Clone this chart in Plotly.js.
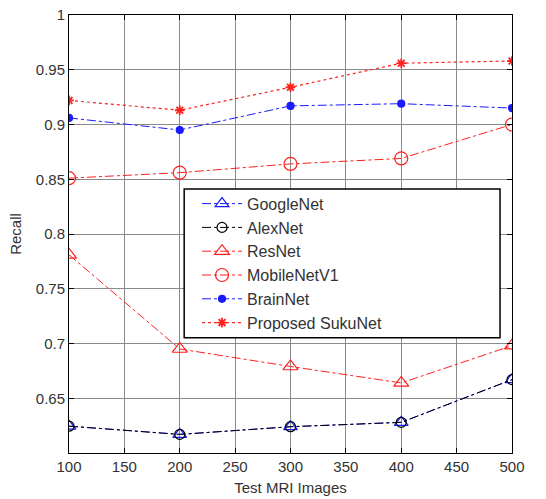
<!DOCTYPE html>
<html><head><meta charset="utf-8">
<script src="https://cdn.plot.ly/plotly-3.0.1.min.js"></script>
<style>html,body{margin:0;padding:0;background:#fff}#chart{width:546px;height:499px}</style>
</head><body><div id="chart"></div>
<script>
const testImages = [100, 200, 300, 400, 500];
const googleNet = [0.6245, 0.617, 0.624, 0.628, 0.667];
const alexNet   = [0.6245, 0.617, 0.624, 0.628, 0.667];
const resNet    = [0.781, 0.695, 0.679, 0.664, 0.698];
const mobileNetV1 = [0.851, 0.856, 0.864, 0.869, 0.900];
const brainNet  = [0.906, 0.895, 0.917, 0.919, 0.915];
const sukuNet   = [0.922, 0.913, 0.934, 0.956, 0.958];
const seriesNames = ['GoogleNet','AlexNet','ResNet','MobileNetV1','BrainNet','Proposed SukuNet'];
const xTicks = [100,150,200,250,300,350,400,450,500];
const yTicks = [0.65,0.7,0.75,0.8,0.85,0.9,0.95,1];
const yTickText = ['0.65','0.7','0.75','0.8','0.85','0.9','0.95','1'];

const FONT = '"Liberation Sans Narrow", "Arial Narrow", "Liberation Sans", Arial, sans-serif';
const RED = '#ff2020';
const BLUE = '#1a1aff';

function tr(y, name, color, dash, symbol, size, lw) {
  return {
    x: testImages, y: y, name: name, type: 'scatter', mode: 'lines+markers',
    line: {color: color, width: lw || 1, dash: dash},
    marker: {symbol: symbol, size: size, color: color,
             line: {color: color, width: 1.2}}
  };
}

const data = [
  tr(googleNet, seriesNames[0], BLUE, 'dashdot', 'triangle-up-open', 12),
  tr(alexNet, seriesNames[1], '#000000', 'dashdot', 'circle-open', 10),
  tr(resNet, seriesNames[2], RED, 'dashdot', 'triangle-up-open', 13),
  tr(mobileNetV1, seriesNames[3], RED, 'dashdot', 'circle-open', 13),
  tr(brainNet, seriesNames[4], BLUE, 'dashdot', 'circle', 7),
  tr(sukuNet, seriesNames[5], RED, 'dot', 'asterisk-open', 8, 1.2)
];
data[5].marker.line.width = 1.8;

const layout = {
  width: 546, height: 499,
  margin: {l: 69, r: 34, t: 15, b: 46},
  paper_bgcolor: '#fff', plot_bgcolor: '#fff',
  font: {family: FONT, size: 15, color: '#333'},
  showlegend: true,
  xaxis: {
    range: [100, 500], tickvals: xTicks, ticktext: xTicks.map(String),
    showgrid: true, gridcolor: '#8a8a8a', gridwidth: 1,
    zeroline: false, showline: true, linecolor: '#000', linewidth: 1, mirror: 'ticks',
    ticks: 'inside', ticklen: 5, tickcolor: '#000',
    tickfont: {family: FONT, size: 15, color: '#333'},
    title: {text: 'Test MRI Images', font: {family: FONT, size: 15, color: '#333'}, standoff: 8}
  },
  yaxis: {
    range: [0.6, 1], tickvals: yTicks, ticktext: yTickText,
    showgrid: true, gridcolor: '#8a8a8a', gridwidth: 1,
    zeroline: false, showline: true, linecolor: '#000', linewidth: 1, mirror: 'ticks',
    ticks: 'inside', ticklen: 5, tickcolor: '#000',
    tickfont: {family: FONT, size: 15, color: '#333'},
    title: {text: 'Recall', font: {family: FONT, size: 15, color: '#333'}, standoff: 10}
  },
  shapes: [{
    type: 'rect', xref: 'paper', yref: 'paper', layer: 'above',
    x0: 0.26, x1: 0.973, y0: 0.263, y1: 0.603,
    fillcolor: '#fff', line: {color: '#000', width: 1.5}
  }],
  legend: {
    x: 0.289, y: 0.608, xanchor: 'left', yanchor: 'top',
    bgcolor: 'rgba(0,0,0,0)', borderwidth: 0,
    font: {family: FONT, size: 16, color: '#333'},
    itemwidth: 40, tracegroupgap: 0
  }
};

Plotly.newPlot('chart', data, layout, {displayModeBar: false, staticPlot: true});
</script>
</body></html>
